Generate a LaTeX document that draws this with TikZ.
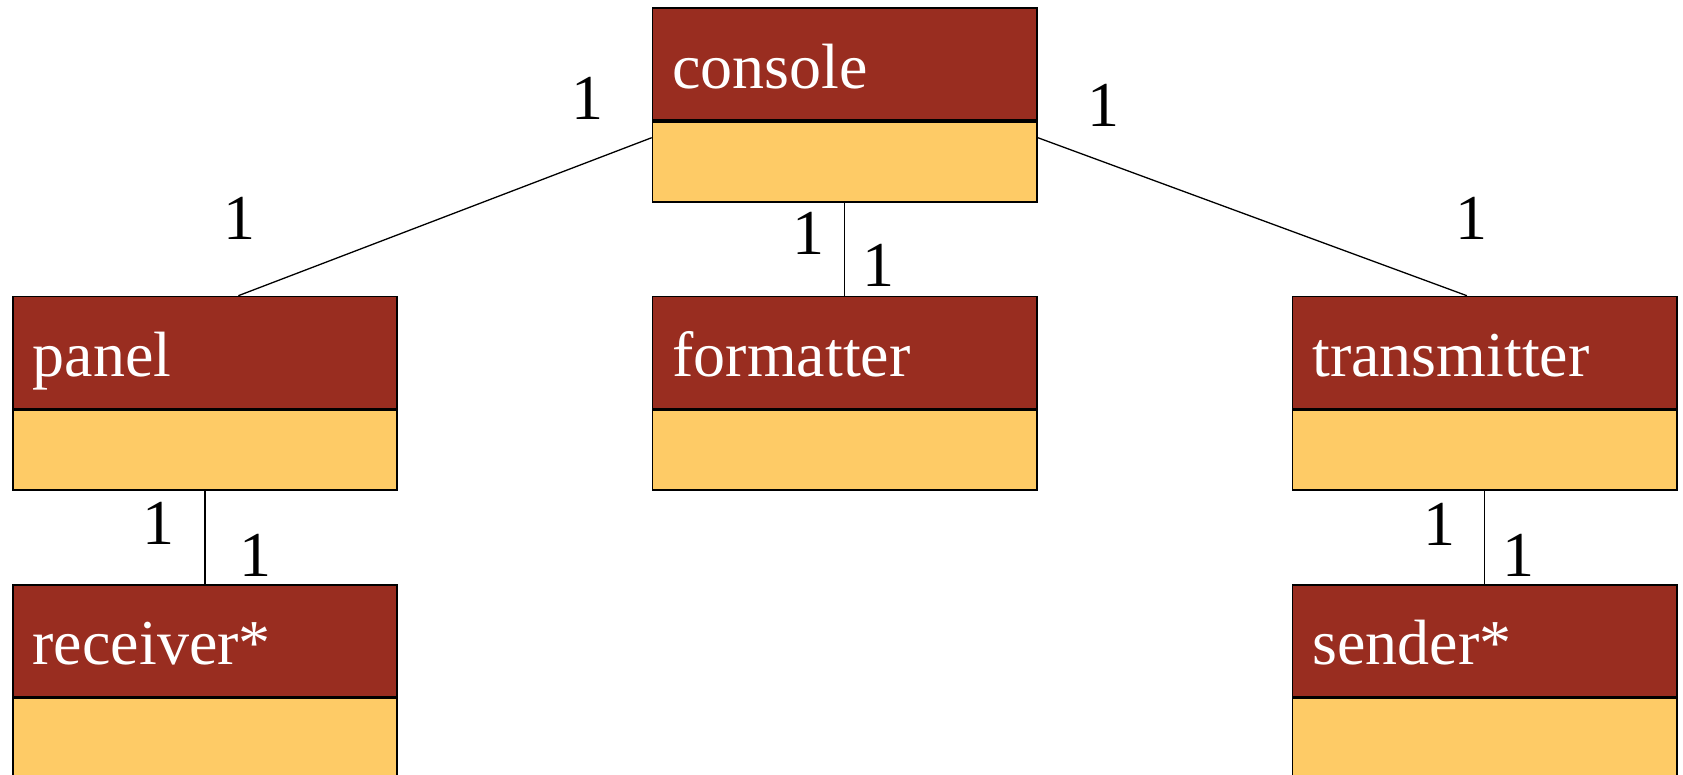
\documentclass[tikz,border=0pt]{standalone}
\usepackage{fontspec}
\setmainfont{Liberation Serif}
\usetikzlibrary{calc}
\definecolor{hdr}{HTML}{992D20}
\definecolor{bdy}{HTML}{FECB66}
\begin{document}
\begin{tikzpicture}[x=1pt,y=-1pt,
  hdrbox/.style={draw=black, line width=1.7pt, fill=hdr, anchor=north west, text=white,
    font=\fontsize{64}{64}\selectfont, text width=344.4pt, align=left, inner xsep=20pt,
    inner ysep=0pt, text height=48pt, text depth=0pt, minimum height=112pt},
  bdybox/.style={draw=black, line width=1.7pt, fill=bdy, anchor=north west,
    minimum width=384.4pt, minimum height=80pt, inner sep=0pt},
  conn/.style={draw=black, line width=1.3pt},
  mult/.style={anchor=base, font=\fontsize{64}{64}\selectfont, inner sep=0pt}]
\useasboundingbox (0,0) rectangle (1683,775);
% boxes
\node[hdrbox] (console) at (651.7,7.3) {console};
\node[bdybox] (consoleb) at (console.south west) {};
\node[hdrbox] (panel) at (11.8,295.7) {panel};
\node[bdybox] (panelb) at (panel.south west) {};
\node[hdrbox] (formatter) at (651.7,295.7) {formatter};
\node[bdybox] (formatterb) at (formatter.south west) {};
\node[hdrbox] (transmitter) at (1291.5,295.7) {transmitter};
\node[bdybox] (transmitterb) at (transmitter.south west) {};
\node[hdrbox] (receiver) at (11.8,584) {receiver*};
\node[bdybox] (receiverb) at (receiver.south west) {};
\node[hdrbox] (sender) at (1291.5,584) {sender*};
\node[bdybox] (senderb) at (sender.south west) {};
% connectors
\draw[conn] ([yshift=-16.7pt]consoleb.north west) -- ([xshift=33.5pt]panel.north);
\draw[conn] ([yshift=-16.7pt]consoleb.north east) -- ([xshift=-17.7pt]transmitter.north);
\draw[conn] (consoleb.south) -- (formatter.north);
\draw[conn] (panelb.south) -- (receiver.north);
\draw[conn] (transmitterb.south) -- (sender.north);
% multiplicities
\node[mult] (m1) at (587.5,120) {1};
\node[mult] (m2) at (239,240) {1};
\node[mult] (m3) at (808,255) {1};
\node[mult] (m4) at (878.5,287) {1};
\node[mult] (m5) at (1103,127) {1};
\node[mult] (m6) at (1471,240) {1};
\node[mult] (m7) at (158,544) {1};
\node[mult] (m8) at (255,576) {1};
\node[mult] (m9) at (1439,545) {1};
\node[mult] (m10) at (1518.5,576) {1};
\end{tikzpicture}
\end{document}
